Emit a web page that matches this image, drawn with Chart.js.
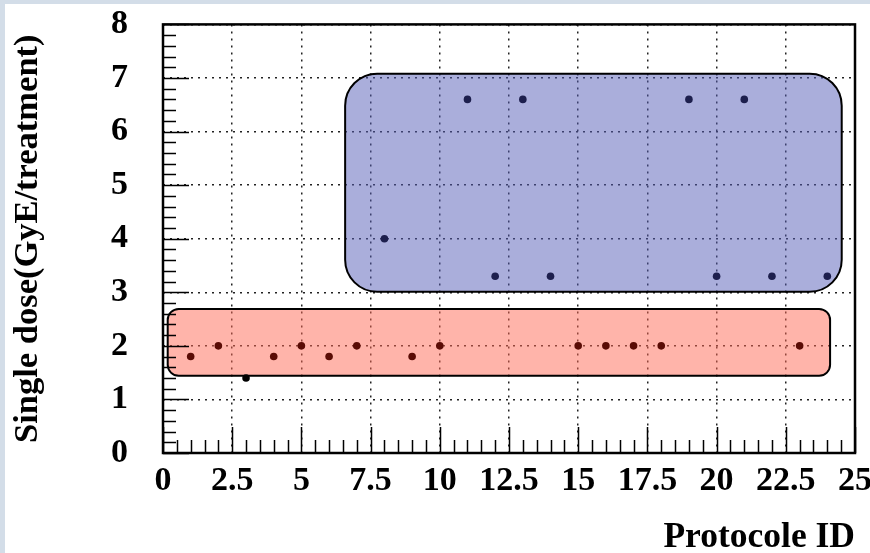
<html>

<head>
    <script src="https://cdn.jsdelivr.net/npm/chart.js"></script>
    <style>
        html,
        body {
            margin: 0;
            padding: 0;
            overflow: hidden;
            background: #d3dde8;
        }

        #chart-container {
            position: absolute;
            left: 5px;
            top: 4px;
            width: 880px;
            height: 549px;
            background: #ffffff;
        }
    </style>
</head>

<body>
    <div id="chart-container">
        <canvas id="dose-chart"></canvas>
    </div>

    <script>
        // protocol id on x, single dose (GyE/treatment) on y
        const protocolIds = [1, 2, 3, 4, 5, 6, 7, 8, 9, 10, 11, 12, 13, 14, 15, 16, 17, 18, 19, 20, 21, 22, 23, 24];
        const singleDose = [1.8, 2.0, 1.4, 1.8, 2.0, 1.8, 2.0, 4.0, 1.8, 2.0, 6.6, 3.3, 6.6, 3.3, 2.0, 2.0, 2.0, 2.0, 6.6, 3.3, 6.6, 3.3, 2.0, 3.3];
        const doseGroup = ['low', 'low', 'none', 'low', 'low', 'low', 'low', 'high', 'low', 'low', 'high', 'high', 'high', 'high', 'low', 'low', 'low', 'low', 'high', 'high', 'high', 'high', 'low', 'high'];

        // shaded regions in data units: [xMin, xMax], [yMin, yMax]
        const lowBandX = [0.17, 24.1];
        const lowBandY = [1.44, 2.69];
        const highBandX = [6.58, 24.52];
        const highBandY = [3.01, 7.08];

        const groupColors = { low: '#5a0c05', high: '#1d1f4d', none: '#000000' };
        const serif = '"Liberation Serif", "Times New Roman", serif';
        const tickFont = { family: serif, size: 34, weight: 'bold' };

        function drawBand(ctx, chart, bx, by, radius, fill) {
            const xs = chart.scales.x, ys = chart.scales.y;
            const x0 = xs.getPixelForValue(bx[0]), x1 = xs.getPixelForValue(bx[1]);
            const y0 = ys.getPixelForValue(by[1]), y1 = ys.getPixelForValue(by[0]);
            ctx.beginPath();
            ctx.roundRect(x0, y0, x1 - x0, y1 - y0, radius);
            ctx.fillStyle = fill;
            ctx.fill();
            ctx.lineWidth = 2;
            ctx.strokeStyle = '#000';
            ctx.stroke();
        }

        const bandsPlugin = {
            id: 'bands',
            beforeDatasetsDraw(chart) {
                const ctx = chart.ctx;
                ctx.save();
                drawBand(ctx, chart, highBandX, highBandY, 32, 'rgba(85,93,183,0.5)');
                drawBand(ctx, chart, lowBandX, lowBandY, 11, 'rgba(255,105,85,0.5)');

                // inner tick marks + frame
                const a = chart.chartArea;
                const xs = chart.scales.x, ys = chart.scales.y;
                ctx.strokeStyle = '#000';
                ctx.lineWidth = 1.5;
                ctx.beginPath();
                for (let v = 0; v <= 25.001; v += 0.5) {
                    const px = Math.round(xs.getPixelForValue(v)) + 0.5;
                    const len = Math.abs(v % 2.5) < 0.01 ? 26 : 13;
                    ctx.moveTo(px, a.bottom);
                    ctx.lineTo(px, a.bottom - len);
                }
                for (let v = 0; v <= 8.001; v += 0.2) {
                    const py = Math.round(ys.getPixelForValue(v)) + 0.5;
                    const len = Math.abs(v - Math.round(v)) < 0.01 ? 26 : 13;
                    ctx.moveTo(a.left, py);
                    ctx.lineTo(a.left + len, py);
                }
                ctx.stroke();
                ctx.lineWidth = 2.5;
                ctx.strokeRect(a.left, a.top, a.right - a.left, a.bottom - a.top);
                ctx.restore();
            }
        };

        const ctx = document.getElementById('dose-chart').getContext('2d');
        const chart = new Chart(ctx, {
            type: 'scatter',
            data: {
                datasets: [{
                    label: 'Single dose',
                    data: protocolIds.map((id, i) => ({ x: id, y: singleDose[i] })),
                    pointRadius: 3.8,
                    pointBackgroundColor: doseGroup.map(g => groupColors[g]),
                    pointBorderWidth: 0
                }]
            },
            options: {
                responsive: true,
                maintainAspectRatio: false,
                animation: false,
                layout: {
                    padding: { top: 20, right: 30, left: 0, bottom: 0 }
                },
                plugins: {
                    legend: { display: false },
                    tooltip: { enabled: false }
                },
                scales: {
                    x: {
                        type: 'linear',
                        min: 0,
                        max: 25,
                        grid: {
                            color: '#222',
                            lineWidth: 1.5,
                            drawTicks: true,
                            tickLength: 8,
                            tickColor: 'rgba(0,0,0,0)'
                        },
                        border: { display: false, dash: [2, 5] },
                        ticks: {
                            stepSize: 2.5,
                            padding: 0,
                            color: '#000',
                            font: tickFont,
                            maxRotation: 0,
                            autoSkip: false
                        },
                        title: {
                            display: true,
                            text: 'Protocole ID',
                            align: 'end',
                            color: '#000',
                            font: { family: serif, size: 35.5, weight: 'bold' },
                            padding: { top: 20, bottom: -6 }
                        },
                        afterFit(scale) { scale.height = 100; }
                    },
                    y: {
                        min: 0,
                        max: 8,
                        grid: {
                            color: '#222',
                            lineWidth: 1.5,
                            drawTicks: true,
                            tickLength: 35,
                            tickColor: 'rgba(0,0,0,0)'
                        },
                        border: { display: false, dash: [2, 5] },
                        ticks: {
                            stepSize: 1,
                            padding: 0,
                            color: '#000',
                            font: tickFont
                        },
                        title: {
                            display: true,
                            text: 'Single dose(GyE/treatment)',
                            color: '#000',
                            font: { family: serif, size: 34.5, weight: 'bold' },
                            padding: { top: 2, bottom: 0 }
                        },
                        afterFit(scale) { scale.width = 158; }
                    }
                }
            },
            plugins: [bandsPlugin]
        });
    </script>
</body>

</html>
